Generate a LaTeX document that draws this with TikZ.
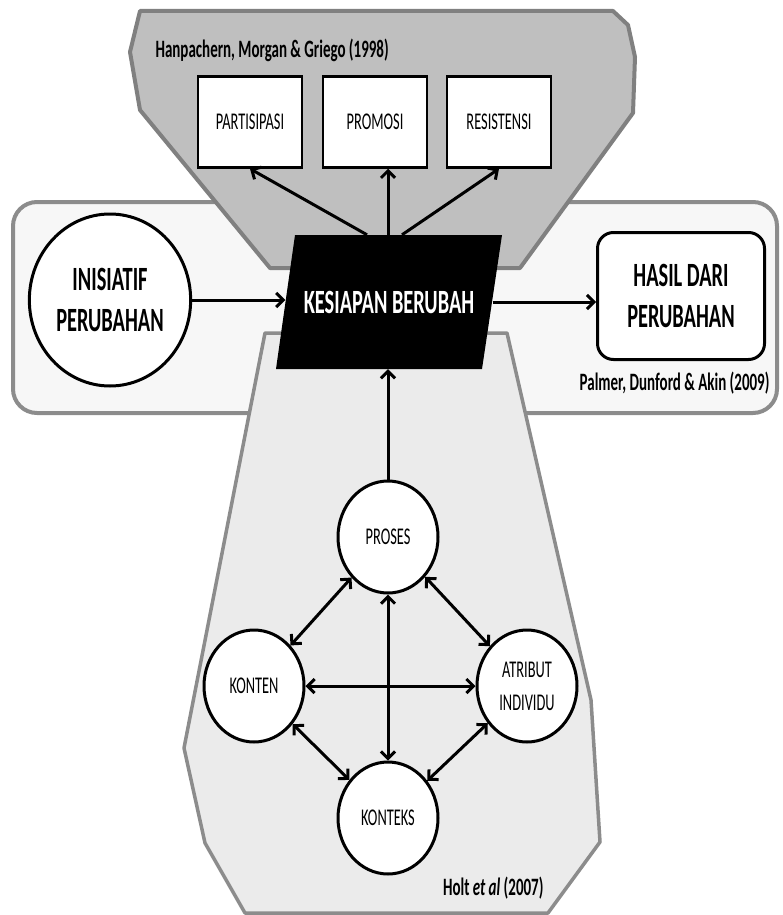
\documentclass[tikz,border=0pt]{standalone}
\usepackage{fontspec}
\setmainfont{Carlito}[FakeStretch=0.6]
\usetikzlibrary{arrows.meta,shapes.geometric}

\begin{document}
\begin{tikzpicture}[x=1pt, y=-1pt,
	every node/.style={font=\fontsize{24}{33}\selectfont, align=center},
	lingkar/.style={ellipse, draw, line width=3pt, fill=white, minimum width=100pt, minimum height=112pt, inner sep=0pt},
	kotak/.style={draw, line width=2.5pt, fill=white, minimum width=104pt, minimum height=91pt},
	judul/.style={font=\fontsize{34}{41}\selectfont\bfseries},
	sumber/.style={font=\fontsize{25}{28}\selectfont\bfseries},
	panah/.style={line width=3pt, -{Straight Barb[length=7pt,width=14pt]}},
	dua/.style={line width=3pt, {Straight Barb[length=7pt,width=14pt]}-{Straight Barb[length=7pt,width=14pt]}}]
	\useasboundingbox (0,0) rectangle (782,915);
	\draw[line width=4pt, draw=black!45, fill=black!3, rounded corners=24pt] (13,202) rectangle (777,413);
	\draw[line width=4pt, draw=black!50, fill=black!25, line join=round] (140,11) -- (613,11) -- (628,25) -- (635,57) -- (633,113) -- (520,268) -- (270,268) -- (140,110) -- (130,52) -- cycle;
	\draw[line width=3.5pt, draw=black!45, fill=black!8, line join=round] (265,333) -- (507,333) -- (591,700) -- (600,842) -- (548,913) -- (245,913) -- (205,843) -- (184,748) -- cycle;
	\fill[black] (295,235) -- (502,235) -- (482,369) -- (276,369) -- cycle;

	\node[sumber, anchor=base west] (hanpachern) at (152,58) {Hanpachern, Morgan \& Griego (1998)};
	\node[sumber, anchor=base east] (palmer) at (773,390) {Palmer, Dunford \& Akin (2009)};
	\node[sumber, anchor=base east] (holt) at (547,895) {Holt \textit{et al} (2007)};

	\node[kotak] (partisipasi) at (250,122) {PARTISIPASI};
	\node[kotak] (promosi) at (375,122) {PROMOSI};
	\node[kotak] (resistensi) at (499,122) {RESISTENSI};

	\node[ellipse, draw, line width=3pt, fill=white, minimum width=154pt, minimum height=172pt, judul] (inisiatif) at (110,300) {INISIATIF\\PERUBAHAN};
	\node[text=white, minimum width=207pt, minimum height=134pt, inner sep=0pt, judul] (siap) at (389,302) {KESIAPAN BERUBAH};
	\node[draw, line width=3pt, rounded corners=16pt, fill=white, minimum width=167pt, minimum height=127pt, judul] (hasil) at (681,296) {HASIL DARI\\PERUBAHAN};

	\node[lingkar] (proses) at (388,537) {PROSES};
	\node[lingkar] (konten) at (254,686) {KONTEN};
	\node[lingkar] (atribut) at (527,686) {ATRIBUT\\INDIVIDU};
	\node[lingkar] (konteks) at (388,818) {KONTEKS};

	\coordinate (atas) at (siap.north -| proses);
	\draw[panah] ([xshift=-21pt]atas) -- (partisipasi.south);
	\draw[panah] (atas) -- (promosi.south -| atas);
	\draw[panah] ([xshift=14pt]atas) -- (resistensi.south);
	\draw[panah] (inisiatif.east) -- (inisiatif.east -| siap.west);
	\draw[panah] (siap.east) -- (siap.east -| hasil.west);
	\draw[panah] (proses.north) -- (proses.north |- siap.south);

	\draw[dua] (proses) -- (konten);
	\draw[dua] (proses) -- (atribut);
	\draw[dua] (proses) -- (konteks);
	\draw[dua] (konten) -- (atribut);
	\draw[dua] (konten) -- (konteks);
	\draw[dua] (atribut) -- (konteks);
\end{tikzpicture}
\end{document}
